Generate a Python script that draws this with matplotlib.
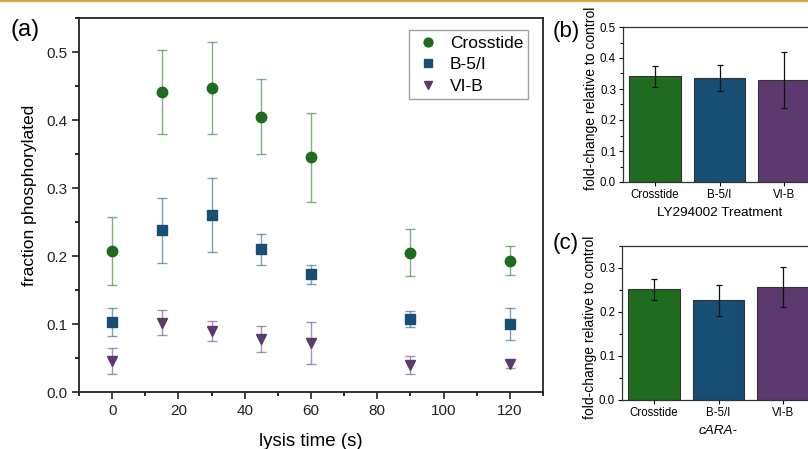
import matplotlib
matplotlib.use("Agg")
import matplotlib.pyplot as plt
from matplotlib.lines import Line2D
from matplotlib.ticker import MultipleLocator, FormatStrFormatter

plt.rcParams['font.family'] = ['Liberation Sans', 'DejaVu Sans']

# ---- data: panel (a) ----
times = [0, 15, 30, 45, 60, 90, 120]
series_names = ["Crosstide", "B-5/I", "VI-B"]
crosstide_mean = [0.207, 0.441, 0.447, 0.405, 0.345, 0.205, 0.193]
crosstide_err = [0.050, 0.062, 0.067, 0.055, 0.065, 0.034, 0.021]
b5i_mean = [0.103, 0.238, 0.260, 0.210, 0.173, 0.107, 0.100]
b5i_err = [0.020, 0.048, 0.054, 0.023, 0.014, 0.012, 0.023]
vib_mean = [0.045, 0.102, 0.090, 0.078, 0.072, 0.040, 0.041]
vib_err = [0.019, 0.018, 0.015, 0.019, 0.031, 0.013, 0.005]

# ---- data: panels (b) and (c) ----
bar_categories = ["Crosstide", "B-5/I", "VI-B"]
ly_mean = [0.341, 0.336, 0.328]
ly_err = [0.034, 0.041, 0.090]
cara_mean = [0.252, 0.227, 0.257]
cara_err = [0.024, 0.035, 0.046]

colors = ["#1f6b1f", "#174e73", "#5c3a70"]
markers = ["o", "s", "v"]

fig = plt.figure(figsize=(8.08, 4.49), dpi=100)

# orange top rule
fig.add_artist(Line2D([0, 1], [0.9985, 0.9985], transform=fig.transFigure,
                      color="#d4a84b", lw=1.6))

W, H = 808, 449
def rect(x0, y0, x1, y1):
    return [x0 / W, 1 - y1 / H, (x1 - x0) / W, (y1 - y0) / H]

# ---- panel (a) ----
ax = fig.add_axes(rect(79, 18, 543, 392))
means = [crosstide_mean, b5i_mean, vib_mean]
errs = [crosstide_err, b5i_err, vib_err]
for name, m, e, c, mk in zip(series_names, means, errs, colors, markers):
    ax.errorbar(times, m, yerr=e, fmt="none", ecolor=c, elinewidth=1.0,
                capsize=3.5, capthick=1.0, alpha=0.55)
    ax.plot(times, m, linestyle="none", marker=mk, color=c, markersize=7.5,
            label=name)
ax.set_xlim(-10, 130)
ax.set_ylim(0, 0.55)
ax.xaxis.set_major_locator(MultipleLocator(20))
ax.xaxis.set_minor_locator(MultipleLocator(10))
ax.yaxis.set_major_locator(MultipleLocator(0.1))
ax.yaxis.set_minor_locator(MultipleLocator(0.05))
ax.yaxis.set_major_formatter(FormatStrFormatter("%.1f"))
ax.tick_params(which="major", direction="out", length=5, width=1.2,
               labelsize=11, colors="#222222")
ax.tick_params(which="minor", direction="out", length=3, width=1.2)
for s in ax.spines.values():
    s.set_linewidth(1.3)
    s.set_color("#222222")
ax.set_xlabel("lysis time (s)", fontsize=13.5, labelpad=11)
ax.set_ylabel("fraction phosphorylated", fontsize=12.5)
ax.yaxis.set_label_coords(-0.09, 0.525)
leg = ax.legend(loc="upper right", bbox_to_anchor=(0.987, 0.99), fontsize=12.5,
                frameon=True, fancybox=False, edgecolor="#888888",
                handletextpad=0.45, borderpad=0.3, labelspacing=0.36,
                handlelength=1.6, markerscale=0.85)
leg.get_frame().set_linewidth(1.0)
fig.text(10 / W, 1 - 30 / H, "(a)", fontsize=17, va="center", ha="left")

# ---- panels (b), (c) ----
def bar_panel(r, vals, errv, ylim, xlabel, italic, label_y):
    bx = fig.add_axes(rect(*r))
    x = list(range(len(bar_categories)))
    bx.bar(x, vals, width=0.8, color=colors, edgecolor="#333333", linewidth=0.8)
    bx.errorbar(x, vals, yerr=errv, fmt="none", ecolor="#111111",
                elinewidth=0.9, capsize=2.5, capthick=0.9)
    bx.set_xlim(-0.5, 2.5)
    bx.set_ylim(*ylim)
    bx.set_xticks(x)
    bx.set_xticklabels(bar_categories, fontsize=8.3)
    bx.yaxis.set_major_locator(MultipleLocator(0.1))
    bx.yaxis.set_minor_locator(MultipleLocator(0.05))
    bx.yaxis.set_major_formatter(FormatStrFormatter("%.1f"))
    bx.tick_params(which="major", direction="out", length=3, width=0.8,
                   labelsize=8.3, pad=2)
    bx.tick_params(which="minor", direction="out", length=2, width=0.8)
    for s in bx.spines.values():
        s.set_linewidth(0.9)
        s.set_color("#333333")
    bx.set_ylabel("fold-change relative to control", fontsize=10)
    bx.yaxis.set_label_coords(-0.13, label_y)
    bx.set_xlabel(xlabel, fontsize=9.7, labelpad=4,
                  style="italic" if italic else "normal")
    return bx

bar_panel((623, 27, 816, 182), ly_mean, ly_err, (0, 0.5), "LY294002 Treatment", False, 0.54)
bar_panel((622, 246, 815, 400), cara_mean, cara_err, (0, 0.35), "cARA-", True, 0.47)
fig.text(553 / W, 1 - 31 / H, "(b)", fontsize=16, va="center", ha="left")
fig.text(553 / W, 1 - 244 / H, "(c)", fontsize=16, va="center", ha="left")

fig.savefig("out.png", dpi=100)
